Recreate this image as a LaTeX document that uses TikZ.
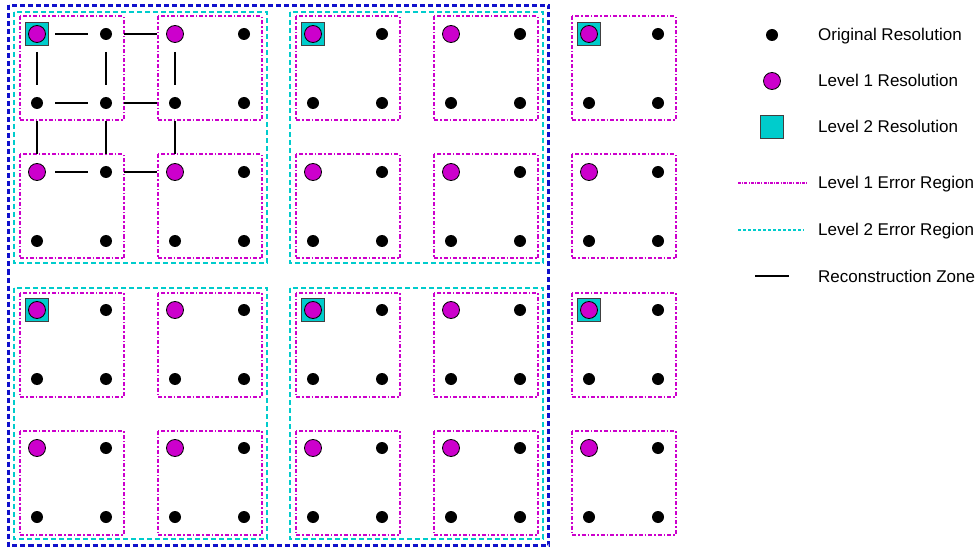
\documentclass[tikz,border=0pt]{standalone}
\usepackage{fontspec}
\setmainfont{Liberation Sans}
\definecolor{mag}{HTML}{CC00CC}
\definecolor{cy}{HTML}{00CCCC}
\definecolor{bl}{HTML}{1010CC}
\begin{document}
\begin{tikzpicture}[x=1pt,y=-1pt,
  orig/.style={circle, fill=black, inner sep=0pt, minimum size=12pt},
  lev1/.style={circle, fill=mag, draw=black, line width=0.8pt, inner sep=0pt, minimum size=17pt},
  lev2/.style={rectangle, fill=cy, draw=black!75, line width=1.2pt, inner sep=0pt, minimum size=23pt},
  err1/.style={draw=mag, line width=2pt, dash pattern=on 4pt off 2pt on 1.5pt off 2pt},
  err2/.style={draw=cy, line width=2pt, dash pattern=on 5pt off 3pt},
  outerbox/.style={draw=bl, line width=2.5pt, dash pattern=on 5pt off 3pt},
  recon/.style={draw=black, line width=2pt, shorten <=18pt, shorten >=18pt},
  legtext/.style={anchor=base west, inner sep=0pt, font=\fontsize{17}{20}\selectfont}]
\useasboundingbox (0,0) rectangle (980,548);
% grid coordinates
\foreach \i in {0,...,9}{
  \foreach \j in {0,...,7}{
    \coordinate (p-\i-\j) at ({37+69*\i},{34+69*\j});
  }
}
% outer (blue) region
\draw[outerbox] ([shift={(-28.5,-28.5)}]p-0-0) rectangle ([shift={(28.5,28.5)}]p-7-7);
% level 2 error regions
\foreach \i/\k in {0/3,4/7}{
  \foreach \j/\l in {0/3,4/7}{
    \draw[err2] ([shift={(-23,-22)}]p-\i-\j) rectangle ([shift={(23,22)}]p-\k-\l);
  }
}
% level 1 error regions
\foreach \i in {0,2,4,6,8}{
  \foreach \j in {0,2,4,6}{
    \pgfmathtruncatemacro\k{\i+1}
    \pgfmathtruncatemacro\l{\j+1}
    \draw[err1] ([shift={(-17.5,-17.5)}]p-\i-\j) rectangle ([shift={(17.5,17.5)}]p-\k-\l);
  }
}
% reconstruction zone
\foreach \i in {0,1}{
  \foreach \j in {0,1,2}{
    \pgfmathtruncatemacro\k{\i+1}
    \draw[recon] (p-\i-\j) -- (p-\k-\j);
    \draw[recon] (p-\j-\i) -- (p-\j-\k);
  }
}
% level 2 markers
\foreach \i in {0,4,8}{
  \foreach \j in {0,4}{
    \node[lev2] (sq-\i-\j) at (p-\i-\j) {};
  }
}
% level 1 markers
\foreach \i in {0,2,4,6,8}{
  \foreach \j in {0,2,4,6}{
    \node[lev1] (m-\i-\j) at (p-\i-\j) {};
  }
}
% original markers
\foreach \i in {0,...,9}{
  \foreach \j in {0,...,7}{
    \pgfmathtruncatemacro\s{mod(\i,2)+mod(\j,2)}
    \ifnum\s>0 \node[orig] (o-\i-\j) at (p-\i-\j) {};\fi
  }
}
% legend
\node[orig] (lg1) at (772,35) {};
\node[lev1] (lg2) at (772,81) {};
\node[lev2] (lg3) at (772,127) {};
\coordinate (la1) at (738,183); \coordinate (lb1) at (807,183);
\coordinate (la2) at (738,230); \coordinate (lb2) at (804,230);
\coordinate (la3) at (755,276); \coordinate (lb3) at (789,276);
\draw[draw=mag, line width=1.5pt, dash pattern=on 3pt off 1.2pt on 1pt off 1.2pt] (la1) -- (lb1);
\draw[draw=cy, line width=1.5pt, dash pattern=on 3pt off 2pt] (la2) -- (lb2);
\draw[black, line width=2pt] (la3) -- (lb3);
\node[legtext] (t1) at (818,41) {Original Resolution};
\node[legtext] (t2) at (818,87) {Level 1 Resolution};
\node[legtext] (t3) at (818,133) {Level 2 Resolution};
\node[legtext] (t4) at (818,189) {Level 1 Error Region};
\node[legtext] (t5) at (818,236) {Level 2 Error Region};
\node[legtext] (t6) at (818,282) {Reconstruction Zone};
\end{tikzpicture}
\end{document}
